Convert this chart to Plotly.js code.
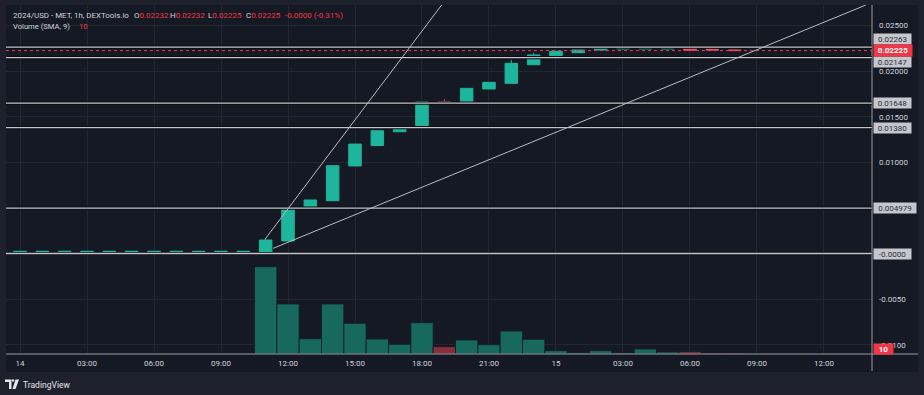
<!DOCTYPE html>
<html><head><meta charset="utf-8">
<script src="https://cdn.plot.ly/plotly-3.0.1.min.js"></script>
<style>html,body{margin:0;padding:0;background:#1e212b;overflow:hidden}#chart{width:924px;height:395px}</style>
</head><body><div id="chart"></div>
<script>
// ---- data ----
const hours = [0,1,2,3,4,5,6,7,8,9,10,11,12,13,14,15,16,17,18,19,20,21,22,23,24,25,26,27,28,29,30,31,32];
const openP  = [0.0001,0.0001,0.0001,0.0001,0.0001,0.0001,0.0001,0.0001,0.0001,0.0001,0.0001,
  0.00005,0.00137,0.00502,0.00579,0.00960,0.01184,0.01335,0.01384,0.01664,0.01653,0.01804,0.01866,0.02070,0.02169,0.02202,0.02231,0.02243,0.02243,0.02243,0.02261,0.02240,0.02232];
const highP  = [0.00025,0.00025,0.00025,0.00025,0.00025,0.00025,0.00025,0.00025,0.00025,0.00025,0.00025,
  0.00156,0.00496,0.00587,0.00963,0.01200,0.01346,0.01376,0.01664,0.01690,0.01811,0.01877,0.02125,0.02202,0.02220,0.02231,0.02263,0.02257,0.02257,0.02261,0.02261,0.02240,0.02232];
const lowP   = [0.0001,0.0001,0.0001,0.0001,0.0001,0.0001,0.0001,0.0001,0.0001,0.0001,0.0001,
  0.00005,0.00137,0.00502,0.00579,0.00960,0.01184,0.01335,0.01384,0.01650,0.01653,0.01804,0.01866,0.02070,0.02169,0.02202,0.02231,0.02243,0.02243,0.02243,0.02228,0.02232,0.02225];
const closeP = [0.00025,0.00025,0.00025,0.00025,0.00025,0.00025,0.00025,0.00025,0.00025,0.00025,0.00025,
  0.00148,0.00496,0.00587,0.00963,0.01200,0.01346,0.01376,0.01664,0.01650,0.01811,0.01877,0.02085,0.02177,0.02217,0.02231,0.02261,0.02257,0.02257,0.02261,0.02228,0.02232,0.02225];
const volume = [0,0,0,0,0,0,0,0,0,0,0,
  873,500,153,500,307,150,97,313,73,140,93,230,147,33,13,33,10,50,20,23,10,10];

const timeTicks = [0,3,6,9,12,15,18,21,24,27,30,33,36];
const timeTickLabels = ["14","03:00","06:00","09:00","12:00","15:00","18:00","21:00","15","03:00","06:00","09:00","12:00"];
const priceTicks = [0.025,0.02,0.015,0.01,0.005,0,-0.005,-0.01];
const priceTickLabels = ["0.02500","0.02000","0.01500","0.01000","","","-0.0050","-0.0100"];

const levels = [0.02263,0.02147,0.01648,0.01380,0.004979,0];
const levelLabels = ["0.02263","0.02147","0.01648","0.01380","0.004979","-0.0000"];
const lastPrice = 0.02225;
const lastPriceLabel = "0.02225";
const trendStartHour = [10.97, 11.34];
const trendStartPrice = [0.00156, 0.00057];
const trendEndHour = [18.88, 37.88];
const trendEndPrice = [0.02725, 0.02725];

const titleText = "2024/USD - MET, 1h, DEXTools.io";
const ohlcNames = ["O","H","L","C"];
const ohlcLabels = ["0.02232","0.02232","0.02225","0.02225"];
const changeLabel = "-0.0000 (-0.31%)";
const volTitle = "Volume (SMA, 9)";
const volLabel = "10";

// ---- styling ----
const UP = "#1db59c", DN = "#f0525f", RED = "#f23645";
const VUP = "#17695e", VDN = "#8a2e3b";
const TXT = "#d1d4dc";
const FONT = "Roboto, 'Liberation Sans', sans-serif";
const L = 6, R = 872, T = 5, B = 354;
const px = v => (v - L) / (R - L);
const py = v => (B - v) / (B - T);

// font size that makes a text span a target pixel width
const ctx = document.createElement('canvas').getContext('2d');
function fit(text, w) {
  ctx.font = '20px Roboto';
  const m = ctx.measureText(text).width;
  return m > 0 ? Math.max(6, Math.min(10, 20 * w / m)) : 8;
}

const volColors = hours.map((h,i) => closeP[i] >= openP[i] ? VUP : VDN);

const traces = [
  {type:'bar', x:hours, y:volume, yaxis:'y2', marker:{color:volColors, line:{color:'#151924', width:0.8}}, hoverinfo:'skip'},
  {type:'candlestick', x:hours, open:openP, high:highP, low:lowP, close:closeP, whiskerwidth:0,
   increasing:{line:{color:UP,width:1}, fillcolor:UP}, decreasing:{line:{color:DN,width:1}, fillcolor:DN}, hoverinfo:'skip'}
];

const shapes = [
  {type:'rect', xref:'paper', yref:'paper', x0:px(6), x1:px(918), y0:py(5), y1:py(372), fillcolor:'#151924', line:{width:0}, layer:'below'},
  {type:'line', xref:'paper', yref:'paper', x0:1, x1:1, y0:py(5), y1:py(371), line:{color:'#9a9da6', width:1}},
  {type:'line', xref:'paper', yref:'paper', x0:0, x1:px(918), y0:0, y1:0, line:{color:'#9a9da6', width:1}}
];
levels.forEach(v => {
  shapes.push({type:'line', xref:'paper', yref:'y', x0:0, x1:1, y0:v, y1:v, line:{color:'#0a0c11', width:3.2}});
  shapes.push({type:'line', xref:'paper', yref:'y', x0:0, x1:1, y0:v, y1:v, line:{color:'#c4c6cc', width:1.3}});
});
shapes.push({type:'line', xref:'paper', yref:'y', x0:0, x1:1, y0:lastPrice, y1:lastPrice, line:{color:RED, width:1, dash:'dot'}});
trendStartHour.forEach((h,i) => {
  shapes.push({type:'line', xref:'x', yref:'y', x0:h, y0:trendStartPrice[i], x1:trendEndHour[i], y1:trendEndPrice[i], line:{color:'#b9bcc7', width:1}});
});
// TradingView logo glyph
shapes.push({type:'path', xref:'paper', yref:'paper', path:`M${px(5)},${py(379.5)} L${px(11.5)},${py(379.5)} L${px(11.5)},${py(389)} L${px(9)},${py(389)} L${px(9)},${py(382)} L${px(5)},${py(382)} Z`, fillcolor:'#e6e7ea', line:{width:0}});
shapes.push({type:'circle', xref:'paper', yref:'paper', x0:px(11.8), x1:px(14.2), y0:py(379.3), y1:py(381.7), fillcolor:'#e6e7ea', line:{width:0}});
shapes.push({type:'path', xref:'paper', yref:'paper', path:`M${px(15.5)},${py(379.5)} L${px(19)},${py(379.5)} L${px(15.5)},${py(389)} L${px(12.5)},${py(389)} Z`, fillcolor:'#e6e7ea', line:{width:0}});

const shifts = [8,-4,0,0,0,0];
const annotations = [];
levels.forEach((v,i) => {
  annotations.push({xref:'paper', yref:'y', x:px(873), y:v, xanchor:'left', yanchor:'middle', yshift:shifts[i],
    text:levelLabels[i], showarrow:false, bgcolor:'#c5c7cd', borderpad:1, width:(levelLabels[i].length>7?40:35), height:8,
    font:{family:FONT, size:8, color:'#2a2e39'}});
});
annotations.push({xref:'paper', yref:'y', x:px(873), y:lastPrice, xanchor:'left', yanchor:'middle',
  text:'<b>'+lastPriceLabel+'</b>', showarrow:false, bgcolor:RED, borderpad:1.5, width:35, height:8,
  font:{family:FONT, size:8, color:'#ffffff'}});
annotations.push({xref:'paper', yref:'paper', x:px(873), y:py(349), xanchor:'left', yanchor:'middle',
  text:'<b>'+volLabel+'</b>', showarrow:false, bgcolor:RED, borderpad:1, width:17, height:8,
  font:{family:FONT, size:8, color:'#ffffff'}});
const red = s => '<span style="color:'+RED+'">'+s+'</span>';
const titleSize = fit(titleText, 116);
const volTitleSize = fit(volTitle, 57);
// header pieces: [text, left px, y px, size]
const pieces = [[titleText, 11, 15, titleSize]];
const ohlcX = [132,168,206,244];
ohlcNames.forEach((n,i) => pieces.push([n + red(ohlcLabels[i]), ohlcX[i], 15, 8]));
pieces.push([red(changeLabel), 283, 15, 8]);
pieces.push([volTitle, 11, 27, volTitleSize]);
pieces.push([red(volLabel), 77, 27, volTitleSize]);
pieces.forEach(p => {
  annotations.push({xref:'paper', yref:'paper', x:px(p[1]), y:py(p[2]), xanchor:'left', yanchor:'middle', showarrow:false,
    text:p[0], font:{family:FONT, size:p[3], color:TXT}});
});
annotations.push({xref:'paper', yref:'paper', x:px(21), y:py(384.5), xanchor:'left', yanchor:'middle', showarrow:false,
  text:'TradingView', font:{family:FONT, size:fit('TradingView', 47), color:'#e6e7ea'}});

const layout = {
  width:924, height:395,
  margin:{l:L, r:924-R, t:T, b:395-B, pad:0},
  paper_bgcolor:'#1e212b', plot_bgcolor:'#151924',
  showlegend:false, boxgap:0.2, bargap:0,
  font:{family:FONT, color:TXT},
  xaxis:{range:[-0.627,38.15], tickvals:timeTicks, ticktext:timeTickLabels, showgrid:true, gridcolor:'#222632', gridwidth:1,
    zeroline:false, showline:false, ticks:'', tickfont:{size:8, color:TXT}, ticklabelstandoff:3, rangeslider:{visible:false}, fixedrange:true},
  yaxis:{range:[-0.01102,0.027248], side:'right', tickvals:priceTicks, ticktext:priceTickLabels, showgrid:true, gridcolor:'#222632',
    zeroline:false, showline:false, ticks:'', tickfont:{size:8, color:TXT}, ticklabelstandoff:6, fixedrange:true},
  yaxis2:{overlaying:'y', range:[0,3490], visible:false, fixedrange:true},
  shapes:shapes, annotations:annotations
};
Plotly.newPlot('chart', traces, layout, {staticPlot:true, displayModeBar:false});
</script></body></html>
